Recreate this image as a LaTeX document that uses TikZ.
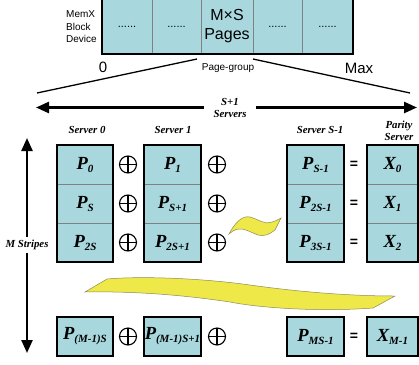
\documentclass[tikz,border=0pt]{standalone}
\usepackage{fontspec}
\setmainfont{Liberation Serif}
\newfontfamily\arialfam{Liberation Sans}
\usetikzlibrary{arrows.meta}
\definecolor{cellfill}{RGB}{168,216,222}
\definecolor{ribbon}{RGB}{238,232,72}
\definecolor{ribbonedge}{RGB}{140,140,90}

% page label: bold italic letter with a lowered index
\newcommand{\Pv}[2]{{\fontsize{18.5}{18.5}\selectfont\bfseries\itshape #1\raisebox{-3pt}{\fontsize{11}{11}\selectfont #2}}}

\begin{document}
\begin{tikzpicture}[x=1pt,y=-1pt,
  cell/.style={draw=black!50, line width=0.6pt, fill=cellfill, inner sep=0pt, minimum height=39pt},
  frame/.style={draw=black, line width=1.8pt},
  xorop/.style={circle, draw, line width=1.1pt, minimum size=17pt, inner sep=0pt,
    path picture={\draw[line width=1.1pt]
      (path picture bounding box.north) -- (path picture bounding box.south)
      (path picture bounding box.west) -- (path picture bounding box.east);}},
  eqop/.style={font=\arialfam\bfseries\fontsize{14}{14}\selectfont, inner sep=0pt},
  hdr/.style={font=\bfseries\itshape\fontsize{10.8}{12}\selectfont, align=center, inner sep=1pt},
  bigarrow/.style={line width=2.4pt, -{Triangle[length=13pt,width=11pt]}},
  sanslbl/.style={font=\arialfam, inner sep=0pt},
  fan/.style={line width=1.3pt},
  band/.style={fill=ribbon, draw=ribbonedge, line width=0.5pt}
]
\useasboundingbox (0,0) rectangle (419,364);
\clip (0,0) rectangle (419,364);

% ---- block device strip ----
\node[cell, minimum width=50pt, minimum height=55pt] (t1) at (127,26.5) {\arialfam\fontsize{11}{11}\selectfont ......};
\node[cell, minimum width=49pt, minimum height=55pt] (t2) at (176.5,26.5) {\arialfam\fontsize{11}{11}\selectfont ......};
\node[cell, minimum width=52pt, minimum height=55pt, align=center, font=\arialfam\fontsize{16}{19}\selectfont] (t3) at (227,26.5) {M×S\\Pages};
\node[cell, minimum width=49pt, minimum height=55pt] (t4) at (277.5,26.5) {\arialfam\fontsize{11}{11}\selectfont ......};
\node[cell, minimum width=51pt, minimum height=55pt] (t5) at (327.5,26.5) {\arialfam\fontsize{11}{11}\selectfont ......};
\draw[frame] (t1.north west) rectangle (t5.south east);

\node[sanslbl, anchor=west, align=left, font=\arialfam\fontsize{10}{12.5}\selectfont] (dev) at (66,27) {MemX\\Block\\Device};
\node[sanslbl, font=\arialfam\fontsize{15}{15}\selectfont] (lo) at (103,67) {0};
\node[sanslbl, font=\arialfam\fontsize{10}{10}\selectfont] (pg) at (228,68) {Page-group};
\node[sanslbl, font=\arialfam\fontsize{15}{15}\selectfont] (hi) at (359,68) {Max};

% ---- fan-out from the page group ----
\coordinate (gl) at (197,59);
\coordinate (gr) at (253,59);
\coordinate (el) at (37,93);
\coordinate (er) at (410,93);
\draw[fan] (gl) -- (el);
\draw[fan] (gr) -- (er);

% ---- server span arrow ----
\node[hdr, minimum width=52pt] (srv) at (230,107.5) {S+1\\Servers};
\coordinate (sl) at (36,107.5);
\coordinate (sr) at (417,107.5);
\draw[bigarrow] (srv.west) -- (sl);
\draw[bigarrow] (srv.east) -- (sr);

% ---- column headers ----
\node[hdr] (h0) at (87,130) {Server 0};
\node[hdr] (h1) at (173,130) {Server 1};
\node[hdr] (h2) at (320,130) {Server S-1};
\node[hdr] (h3) at (399,131) {Parity\\Server};

% ---- stripe span arrow ----
\node[hdr, inner sep=3pt] (mstr) at (27,245) {M Stripes};
\coordinate (vt) at (27,138);
\coordinate (vb) at (27,353);
\draw[bigarrow] (mstr.north) -- (vt);
\draw[bigarrow] (mstr.south) -- (vb);

% ---- server 0 ----
\node[cell, minimum width=56pt] (a0) at (85,164.5) {\Pv{P}{0}};
\node[cell, minimum width=56pt] (a1) at (85,203.5) {\Pv{P}{S}};
\node[cell, minimum width=56pt] (a2) at (85,242.5) {\Pv{P}{2S}};
\node[cell, minimum width=56pt] (a3) at (85,336.5) {\Pv{P}{(M-1)S}};
\draw[frame] (a0.north west) rectangle (a2.south east);
\draw[frame] (a3.north west) rectangle (a3.south east);

% ---- server 1 ----
\node[cell, minimum width=57pt] (b0) at (172.5,164.5) {\Pv{P}{1}};
\node[cell, minimum width=57pt] (b1) at (172.5,203.5) {\Pv{P}{S+1}};
\node[cell, minimum width=57pt] (b2) at (172.5,242.5) {\Pv{P}{2S+1}};
\node[cell, minimum width=57pt] (b3) at (172.5,336.5) {\Pv{P}{(M-1)S+1}};
\draw[frame] (b0.north west) rectangle (b2.south east);
\draw[frame] (b3.north west) rectangle (b3.south east);

% ---- server S-1 ----
\node[cell, minimum width=57pt] (c0) at (315.5,164.5) {\Pv{P}{S-1}};
\node[cell, minimum width=57pt] (c1) at (315.5,203.5) {\Pv{P}{2S-1}};
\node[cell, minimum width=57pt] (c2) at (315.5,242.5) {\Pv{P}{3S-1}};
\node[cell, minimum width=57pt] (c3) at (315.5,336.5) {\Pv{P}{MS-1}};
\draw[frame] (c0.north west) rectangle (c2.south east);
\draw[frame] (c3.north west) rectangle (c3.south east);

% ---- parity server ----
\node[cell, minimum width=51pt] (d0) at (392.5,164.5) {\Pv{X}{0}};
\node[cell, minimum width=51pt] (d1) at (392.5,203.5) {\Pv{X}{1}};
\node[cell, minimum width=51pt] (d2) at (392.5,242.5) {\Pv{X}{2}};
\node[cell, minimum width=51pt] (d3) at (392.5,336.5) {\Pv{X}{M-1}};
\draw[frame] (d0.north west) rectangle (d2.south east);
\draw[frame] (d3.north west) rectangle (d3.south east);

% ---- XOR and equality operators ----
\node[xorop] (x00) at (128,164.5) {};
\node[xorop] (x01) at (128,203.5) {};
\node[xorop] (x02) at (128,242.5) {};
\node[xorop] (x03) at (128,336.5) {};
\node[xorop] (x10) at (217,164.5) {};
\node[xorop] (x11) at (217,203.5) {};
\node[xorop] (x12) at (217,242.5) {};
\node[xorop] (x13) at (217,336.5) {};
\node[eqop] (e0) at (354,164.5) {=};
\node[eqop] (e1) at (354,203.5) {=};
\node[eqop] (e2) at (354,242.5) {=};
\node[eqop] (e3) at (354,336.5) {=};

% ---- ellipsis ribbons ----
\draw[band] (229,234) .. controls (234,224) and (242,215) .. (250,217)
  .. controls (258,219) and (264,225) .. (272,222)
  .. controls (276,221) and (279,219) .. (281,218)
  -- (275,230)
  .. controls (270,234) and (264,237) .. (258,235)
  .. controls (250,232) and (244,228) .. (238,229)
  .. controls (234,230) and (231,232) .. cycle;
\draw[band] (85,292) -- (107,279)
  .. controls (140,276) and (200,278) .. (250,285)
  .. controls (300,292) and (350,296) .. (395,296)
  -- (373,308)
  .. controls (320,312) and (260,308) .. (230,302)
  .. controls (190,296) and (140,291) .. cycle;
\end{tikzpicture}
\end{document}
